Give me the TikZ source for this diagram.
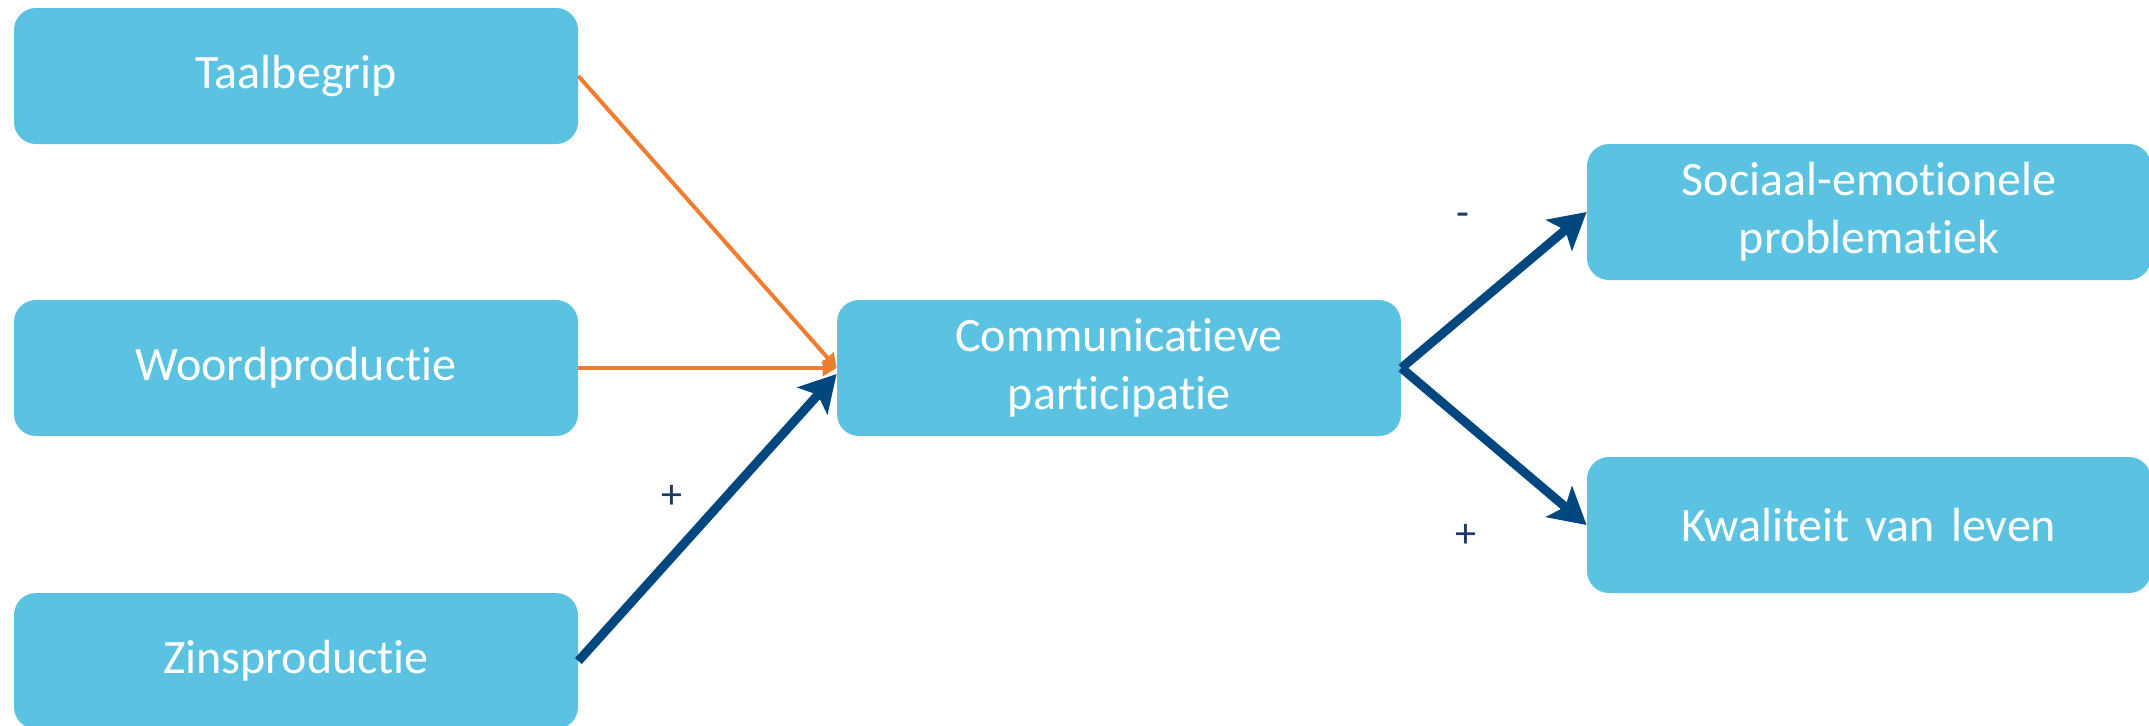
\documentclass[tikz,border=0pt]{standalone}
\usepackage{fontspec}
\setmainfont{Carlito}[Ligatures=NoCommon]
\usetikzlibrary{arrows.meta}
\definecolor{boxblue}{HTML}{5BC3E1}
\definecolor{arrblue}{HTML}{00467F}
\definecolor{arrorange}{HTML}{ED7D31}
\definecolor{signblue}{HTML}{1F3864}

\begin{document}
\begin{tikzpicture}[x=0.5pt,y=-0.5pt,
  every node/.style={fill=boxblue,rounded corners=11pt,minimum width=282pt,minimum height=68pt,
    text width=270pt,align=center,text=white,inner sep=0pt,font=\fontsize{24}{29}\selectfont},
  weak/.style={draw=arrorange,line width=2pt,-{Triangle[length=7pt,width=8pt]}},
  strong/.style={draw=arrblue,line width=4.5pt,-{Stealth[length=18pt,width=20pt,inset=4pt]}},
  sign/.style={fill=none,minimum width=0pt,minimum height=0pt,text width=,text=signblue,font=\fontsize{21}{24}\selectfont}]
\useasboundingbox (0,0) rectangle (2149,725);
\node (tb) at (296, 76) {Taalbegrip};
\node (wp) at (296, 368) {Woordproductie};
\node (zp) at (296, 661) {Zinsproductie};
\node (cp) at (1119, 368) {Communicatieve\\participatie};
\node (se) at (1869, 212) {Sociaal-emotionele\\problematiek};
\node (kw) at (1869, 525) {Kwaliteit van leven};
\draw [weak] (tb.east) to (cp.west);
\draw [weak] (wp.east) to (cp.west);
\draw [strong] (zp.east) to ([yshift=-3pt]cp.west);
\draw [strong] (cp.east) to (se.west);
\draw [strong] (cp.east) to (kw.west);
\node [sign] (s1) at (672, 497) {+};
\node [sign] (s2) at (1463, 220) {-};
\node [sign] (s3) at (1466, 536) {+};
\end{tikzpicture}
\end{document}
